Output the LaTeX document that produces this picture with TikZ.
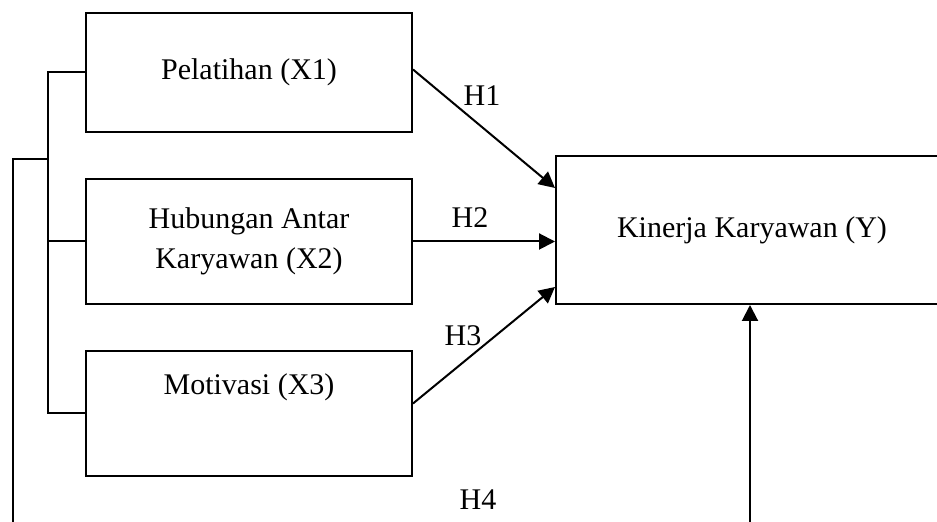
\documentclass[tikz,border=0pt]{standalone}
\usepackage{fontspec}
\setmainfont{Liberation Serif}
\usetikzlibrary{arrows.meta,calc}
\begin{document}
\begin{tikzpicture}[x=0.5pt,y=-0.5pt,
  every node/.style={font=\fontsize{15}{20}\selectfont},
  box/.style={draw,line width=1pt,minimum width=163pt,align=center,inner sep=0pt},
  conn/.style={line width=1pt},
  arr/.style={line width=1pt,-{Triangle[length=8pt,width=8pt]}},
  hlab/.style={inner sep=0pt}]
\clip (0,0) rectangle (937,522);
\fill[white] (0,0) rectangle (937,522);
\node[box,minimum height=59.5pt] (X1) at (249,72.5) {Pelatihan (X1)};
\node[box,minimum height=62.5pt] (X2) at (249,241.5) {Hubungan Antar\\Karyawan (X2)};
\node[box,minimum height=62.5pt,label={[yshift=13pt,font=\fontsize{15}{20}\selectfont]center:Motivasi (X3)}] (X3) at (249,413.5) {};
\node[box,minimum width=196pt,minimum height=74pt] (Y) at (752,230) {Kinerja Karyawan (Y)};
% bracket
\coordinate (bk) at (48,159);
\coordinate (o1) at (13,159);
\coordinate (o2) at (13,522);
\draw[conn] (X1.west) -| (bk) |- (X3.west);
\draw[conn] (X2.west) -- (X2.west -| bk);
\draw[conn] (bk) -- (o1) -- (o2);
% arrows
\draw[arr] ($(X1.east)+(0,-3)$) -- ($(Y.west)+(0,-42)$);
\draw[arr] (X2.east) -- (X2.east -| Y.west);
\draw[arr] ($(X3.east)+(0,-10)$) -- ($(Y.west)+(0,57)$);
\coordinate (bt) at (750,522);
\draw[arr] (bt) -- (Y.south -| bt);
% labels
\node[hlab] (h1) at (482,96) {H1};
\node[hlab] (h2) at (470,218) {H2};
\node[hlab] (h3) at (463,336) {H3};
\node[hlab] (h4) at (478,500) {H4};
\end{tikzpicture}
\end{document}
